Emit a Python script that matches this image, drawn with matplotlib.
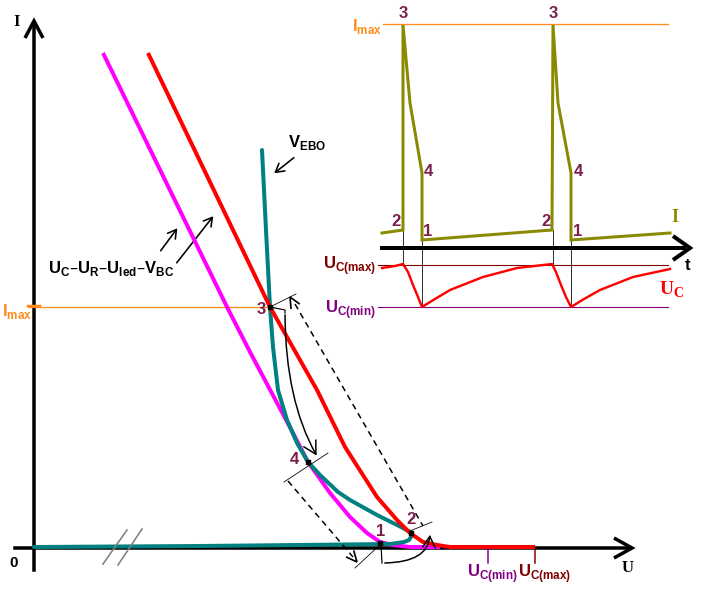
import matplotlib
matplotlib.use('Agg')
import matplotlib.pyplot as plt
from matplotlib.patches import FancyArrowPatch
import numpy as np

W, H = 703, 592
PX = 0.72  # points per pixel at 100 dpi

# ---------------- data (pixel-space reading of the diagram) ----------------
# main I-U diagram
teal_u = [34, 200, 300, 390, 404, 409, 411, 412, 403, 377, 350, 338, 320, 308, 297, 287, 278, 273, 270, 266, 262]
teal_i = [547, 546, 545, 544, 542, 540, 537, 533, 528, 515, 500, 492, 475, 462, 443, 420, 390, 347, 307, 230, 150]

red_u = [148, 270, 317, 345, 377, 397, 410, 423, 437, 450, 535]
red_i = [53, 307, 390, 447, 497, 520, 533, 542, 545, 547, 547]

mag_u = [103, 227, 250, 293, 308, 330, 350, 367, 380, 393, 410, 440]
mag_i = [53, 307, 352, 433, 462, 493, 517, 533, 542, 545, 547, 547]

pt_names = ['3', '4', '2', '1']
pt_u = [270, 308, 411, 380]
pt_i = [307, 462, 533, 543]
pt_lab_u = [261, 294, 411, 381]
pt_lab_i = [309, 460, 519, 531]

# perpendicular ticks at the working points
tick_u = [(270, 296), (284, 328), (410, 432), (355, 382)]
tick_i = [(307, 294), (482, 453), (531, 522), (568, 543)]

# inset time diagram
inset_t = [382, 403, 403, 410, 422, 422, 552, 553, 558, 571, 571, 670]
inset_I = [233, 230, 25, 103, 173, 240, 230, 25, 103, 173, 240, 233]
uc_t = [382, 395, 403, 408, 413, 418, 422, 435, 450, 483, 517, 552,
        556, 561, 566, 571, 584, 600, 633, 670]
uc_v = [268, 266, 264, 272, 285, 297, 307, 299, 290, 277, 268, 264,
        272, 285, 297, 307, 299, 290, 277, 269]
inset_lab = [('3', 403, 14), ('2', 396, 221), ('4', 428, 172), ('1', 428, 231),
             ('3', 553, 14), ('2', 546, 221), ('4', 578, 172), ('1', 578, 231)]
drop_t = [403, 422, 553, 571]
drop_top = [230, 240, 230, 240]
drop_bot = [265, 307, 265, 307]

# colours
RED = '#ff0000'
MAG = '#ff00ff'
TEAL = '#008080'
OLIVE = '#8a8a00'
ORANGE = '#ff8c1a'
MAROON = '#7a1f4a'
DKRED = '#800000'
PURPLE = '#800080'

SANS = 'Liberation Sans'
SERIF = 'Liberation Serif'
LAB = dict(fontfamily=SANS, fontweight='bold', fontsize=12)

fig = plt.figure(figsize=(W / 100, H / 100), dpi=100)
ax = fig.add_axes([0, 0, 1, 1])
ax.set_xlim(0, W)
ax.set_ylim(H, 0)
ax.axis('off')


def chevron(tip, direction, length, half, lw, color='black', z=5):
    tx, ty = tip
    dx, dy = direction
    n = np.hypot(dx, dy)
    dx, dy = dx / n, dy / n
    px_, py_ = -dy, dx
    bx, by = tx - dx * length, ty - dy * length
    ax.plot([bx + px_ * half, tx, bx - px_ * half], [by + py_ * half, ty, by - py_ * half],
            color=color, lw=lw, solid_joinstyle='miter', solid_capstyle='butt', zorder=z)


# ---------------- main axes ----------------
ax.plot([34, 34], [570, 24], color='black', lw=3.5 * PX, zorder=2)
chevron((34, 21), (0, -1), 17, 9, 3.5 * PX, z=2)
ax.plot([15, 629], [548, 548], color='black', lw=3.5 * PX, zorder=2)
chevron((632, 548), (1, 0), 18, 10, 3.5 * PX, z=2)

ax.text(17, 22, 'I', fontfamily=SERIF, fontweight='bold', fontsize=12, ha='center', va='center')
ax.text(628, 568, 'U', fontfamily=SERIF, fontweight='bold', fontsize=12, ha='center', va='center')
ax.text(14, 563, '0', fontfamily=SANS, fontweight='bold', fontsize=11, ha='center', va='center')

# Imax line
ax.plot([28, 268], [307, 307], color=ORANGE, lw=1.3 * PX, zorder=3)
ax.plot([28, 40], [306, 306], color=ORANGE, lw=2.5 * PX, zorder=3)
ax.text(32, 316, r'I$_{\mathregular{max}}$', color=ORANGE, ha='right', va='baseline', **LAB)

# curves
ax.plot(mag_u, mag_i, color=MAG, lw=4 * PX, zorder=4, solid_capstyle='butt')
ax.plot(teal_u, teal_i, color=TEAL, lw=4 * PX, zorder=5, solid_capstyle='round', solid_joinstyle='round')
ax.plot(red_u, red_i, color=RED, lw=4 * PX, zorder=6, solid_capstyle='butt')

# axis break marks
ax.plot([103, 127], [564, 530], color='#808080', lw=1.6 * PX, zorder=7)
ax.plot([118, 142], [565, 529], color='#808080', lw=1.6 * PX, zorder=7)

# working points and labels
ax.scatter(pt_u, pt_i, marker='s', s=10, color='black', zorder=9)
for nm, x, y in zip(pt_names, pt_lab_u, pt_lab_i):
    ax.text(x, y, nm, color=MAROON, ha='center', va='center', zorder=9, **LAB)
for tu, ti in zip(tick_u, tick_i):
    ax.plot(tu, ti, color='black', lw=0.8 * PX, zorder=8)

# small bracket at point 3 and curved arrow 3 -> 4
ax.plot([270, 285, 285], [307, 310, 313], color='black', lw=1.2 * PX, zorder=8)
arr34 = FancyArrowPatch((285, 312), (318, 458), connectionstyle='angle3,angleA=90,angleB=120',
                        arrowstyle='->,head_length=0.9,head_width=0.5', mutation_scale=10,
                        lw=1.5 * PX, color='black', zorder=8)
ax.add_patch(arr34)

# dashed return lines
ax.plot([295, 423], [304, 526], color='black', lw=1.5 * PX, ls=(0, (4, 3)), zorder=8)
chevron((290, 297), (-0.49, -0.87), 11, 5, 1.7 * PX, z=8)
ax.plot([288, 353], [481, 557], color='black', lw=1.5 * PX, ls=(0, (4, 3)), zorder=8)
chevron((357, 562), (0.65, 0.76), 11, 5, 1.7 * PX, z=8)

# arrow 1 -> 2
ax.plot([381, 382], [545, 563], color='black', lw=1.2 * PX, zorder=8)
arr12 = FancyArrowPatch((382, 563), (430, 532), connectionstyle='angle3,angleA=0,angleB=90',
                        arrowstyle='->,head_length=0.8,head_width=0.45', mutation_scale=10,
                        lw=1.5 * PX, color='black', zorder=8)
ax.add_patch(arr12)

# VEBO label and arrow
ax.text(288, 147, r'V$_{\mathregular{EBO}}$', ha='left', va='baseline', **LAB)
ax.annotate('', xy=(272, 175), xytext=(296, 156),
            arrowprops=dict(arrowstyle='->,head_length=0.6,head_width=0.35', lw=1.6 * PX, color='black'))

# load-line label and arrows
ax.text(111, 273, r'U$_{\mathregular{C}}$–U$_{\mathregular{R}}$–U$_{\mathregular{led}}$–V$_{\mathregular{BC}}$',
        ha='center', va='baseline', **LAB)
ax.annotate('', xy=(179, 226), xytext=(159, 253),
            arrowprops=dict(arrowstyle='->,head_length=0.6,head_width=0.35', lw=1.6 * PX, color='black'))
ax.annotate('', xy=(215, 214), xytext=(175, 265),
            arrowprops=dict(arrowstyle='->,head_length=0.6,head_width=0.35', lw=1.6 * PX, color='black'))

# U axis ticks
ax.plot([488, 488], [549, 563], color=PURPLE, lw=1.5 * PX, zorder=7)
ax.plot([535, 535], [549, 563], color=DKRED, lw=1.5 * PX, zorder=7)
ax.text(492, 577, r'U$_{\mathregular{C(min)}}$', color=PURPLE, ha='center', va='baseline', **LAB)
ax.text(545, 577, r'U$_{\mathregular{C(max)}}$', color=DKRED, ha='center', va='baseline', **LAB)

# ---------------- inset time diagram ----------------
ax.plot([383, 668], [24, 24], color=ORANGE, lw=1.3 * PX, zorder=3)
ax.text(382, 31, r'I$_{\mathregular{max}}$', color=ORANGE, ha='right', va='baseline', **LAB)

ax.plot([382, 684], [248, 248], color='black', lw=4 * PX, zorder=3)
chevron((690, 248), (1, 0), 17, 12, 4 * PX, z=3)
ax.text(688, 266, 't', ha='center', va='center', **LAB)

ax.plot([378, 668], [265, 265], color=DKRED, lw=1.1 * PX, zorder=3)
ax.plot([378, 668], [307, 307], color=PURPLE, lw=1.1 * PX, zorder=3)
ax.text(376, 269, r'U$_{\mathregular{C(max)}}$', color=DKRED, ha='right', va='baseline', **LAB)
ax.text(376, 313, r'U$_{\mathregular{C(min)}}$', color=PURPLE, ha='right', va='baseline', **LAB)

for x, y0, y1 in zip(drop_t, drop_top, drop_bot):
    ax.plot([x, x], [y0, y1], color='black', lw=0.8 * PX, zorder=3)

ax.plot(inset_t, inset_I, color=OLIVE, lw=3 * PX, zorder=4, solid_joinstyle='miter')
ax.plot(uc_t, uc_v, color=RED, lw=2.4 * PX, zorder=4)
for nm, x, y in inset_lab:
    ax.text(x, y, nm, color=MAROON, ha='center', va='center', zorder=9, **LAB)
ax.text(675, 218, 'I', color=OLIVE, fontfamily=SERIF, fontweight='bold', fontsize=13,
        ha='center', va='center')
ax.text(672, 290, r'U$_{\mathregular{C}}$', color=RED, fontfamily=SERIF, fontweight='bold', fontsize=14,
        ha='center', va='center')

fig.savefig('out.png', dpi=100)
